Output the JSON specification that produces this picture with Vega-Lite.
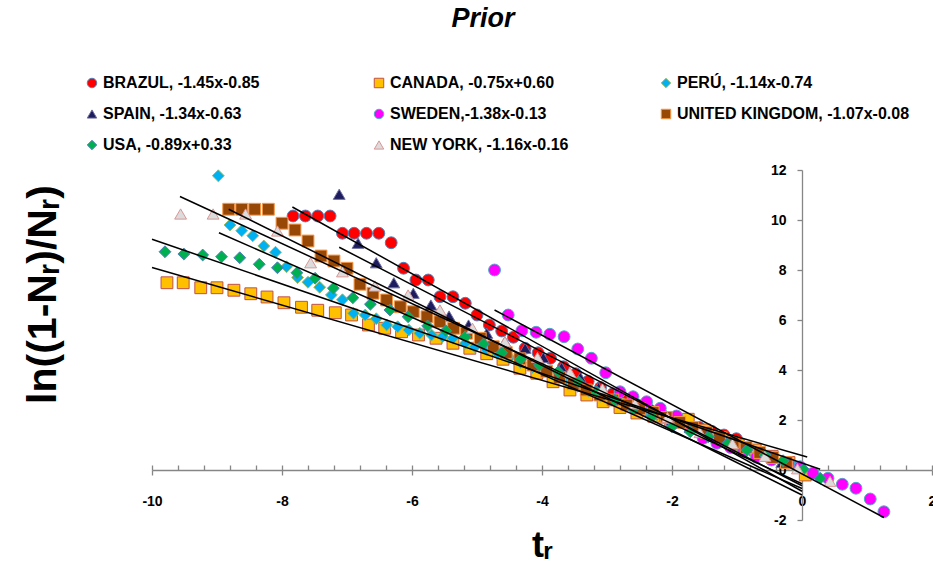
{
  "$schema": "https://vega.github.io/schema/vega-lite/v6.json",
  "width": 780,
  "height": 350,
  "autosize": "none",
  "padding": {"left": 152, "top": 170, "right": 1, "bottom": 51},
  "background": "white",
  "config": {"view": {"stroke": null}, "font": "Liberation Sans"},
  "title": {"text": "Prior", "fontSize": 27, "fontStyle": "italic", "fontWeight": "bold", "font": "Liberation Sans", "anchor": "middle", "dx": -59, "offset": 42, "color": "#000000"},
  "datasets": {
    "pts": [
      {"s": "BRAZUL, -1.45x-0.85", "x": -7.83, "y": 10.16}, {"s": "BRAZUL, -1.45x-0.85", "x": -7.64, "y": 10.16}, {"s": "BRAZUL, -1.45x-0.85", "x": -7.45, "y": 10.16}, {"s": "BRAZUL, -1.45x-0.85", "x": -7.26, "y": 10.16},
      {"s": "BRAZUL, -1.45x-0.85", "x": -7.07, "y": 9.47}, {"s": "BRAZUL, -1.45x-0.85", "x": -6.89, "y": 9.47}, {"s": "BRAZUL, -1.45x-0.85", "x": -6.70, "y": 9.47}, {"s": "BRAZUL, -1.45x-0.85", "x": -6.51, "y": 9.47},
      {"s": "BRAZUL, -1.45x-0.85", "x": -6.32, "y": 9.09}, {"s": "BRAZUL, -1.45x-0.85", "x": -6.13, "y": 8.07}, {"s": "BRAZUL, -1.45x-0.85", "x": -5.94, "y": 7.6}, {"s": "BRAZUL, -1.45x-0.85", "x": -5.75, "y": 7.6},
      {"s": "BRAZUL, -1.45x-0.85", "x": -5.57, "y": 6.93}, {"s": "BRAZUL, -1.45x-0.85", "x": -5.37, "y": 6.93}, {"s": "BRAZUL, -1.45x-0.85", "x": -5.18, "y": 6.67}, {"s": "BRAZUL, -1.45x-0.85", "x": -5.0, "y": 6.2},
      {"s": "BRAZUL, -1.45x-0.85", "x": -4.81, "y": 5.8}, {"s": "BRAZUL, -1.45x-0.85", "x": -4.62, "y": 5.56}, {"s": "BRAZUL, -1.45x-0.85", "x": -4.44, "y": 5.31}, {"s": "BRAZUL, -1.45x-0.85", "x": -4.26, "y": 4.87},
      {"s": "BRAZUL, -1.45x-0.85", "x": -4.06, "y": 4.69}, {"s": "BRAZUL, -1.45x-0.85", "x": -3.87, "y": 4.47}, {"s": "BRAZUL, -1.45x-0.85", "x": -3.67, "y": 4.13}, {"s": "BRAZUL, -1.45x-0.85", "x": -3.48, "y": 3.85},
      {"s": "BRAZUL, -1.45x-0.85", "x": -3.29, "y": 3.55}, {"s": "BRAZUL, -1.45x-0.85", "x": -3.10, "y": 3.3}, {"s": "BRAZUL, -1.45x-0.85", "x": -2.91, "y": 3.05}, {"s": "BRAZUL, -1.45x-0.85", "x": -2.72, "y": 2.8},
      {"s": "BRAZUL, -1.45x-0.85", "x": -2.53, "y": 2.6}, {"s": "BRAZUL, -1.45x-0.85", "x": -2.34, "y": 2.4}, {"s": "BRAZUL, -1.45x-0.85", "x": -2.15, "y": 2.2}, {"s": "BRAZUL, -1.45x-0.85", "x": -1.96, "y": 2.0},
      {"s": "BRAZUL, -1.45x-0.85", "x": -1.77, "y": 1.85}, {"s": "BRAZUL, -1.45x-0.85", "x": -1.58, "y": 1.7}, {"s": "BRAZUL, -1.45x-0.85", "x": -1.39, "y": 1.55}, {"s": "BRAZUL, -1.45x-0.85", "x": -1.20, "y": 1.4},
      {"s": "BRAZUL, -1.45x-0.85", "x": -1.01, "y": 1.25},

      {"s": "CANADA, -0.75x+0.60", "x": -9.77, "y": 7.49}, {"s": "CANADA, -0.75x+0.60", "x": -9.52, "y": 7.49}, {"s": "CANADA, -0.75x+0.60", "x": -9.25, "y": 7.29}, {"s": "CANADA, -0.75x+0.60", "x": -9.0, "y": 7.29},
      {"s": "CANADA, -0.75x+0.60", "x": -8.74, "y": 7.19}, {"s": "CANADA, -0.75x+0.60", "x": -8.48, "y": 7.05}, {"s": "CANADA, -0.75x+0.60", "x": -8.23, "y": 6.92}, {"s": "CANADA, -0.75x+0.60", "x": -7.97, "y": 6.69},
      {"s": "CANADA, -0.75x+0.60", "x": -7.70, "y": 6.51}, {"s": "CANADA, -0.75x+0.60", "x": -7.45, "y": 6.39}, {"s": "CANADA, -0.75x+0.60", "x": -7.18, "y": 6.29}, {"s": "CANADA, -0.75x+0.60", "x": -6.93, "y": 6.2},
      {"s": "CANADA, -0.75x+0.60", "x": -6.67, "y": 5.8}, {"s": "CANADA, -0.75x+0.60", "x": -6.42, "y": 5.67}, {"s": "CANADA, -0.75x+0.60", "x": -6.16, "y": 5.53}, {"s": "CANADA, -0.75x+0.60", "x": -5.90, "y": 5.4},
      {"s": "CANADA, -0.75x+0.60", "x": -5.63, "y": 5.27}, {"s": "CANADA, -0.75x+0.60", "x": -5.37, "y": 5.07}, {"s": "CANADA, -0.75x+0.60", "x": -5.11, "y": 4.87}, {"s": "CANADA, -0.75x+0.60", "x": -4.85, "y": 4.65},
      {"s": "CANADA, -0.75x+0.60", "x": -4.60, "y": 4.43}, {"s": "CANADA, -0.75x+0.60", "x": -4.34, "y": 4.07}, {"s": "CANADA, -0.75x+0.60", "x": -4.08, "y": 3.87}, {"s": "CANADA, -0.75x+0.60", "x": -3.83, "y": 3.53},
      {"s": "CANADA, -0.75x+0.60", "x": -3.57, "y": 3.2}, {"s": "CANADA, -0.75x+0.60", "x": -3.31, "y": 3.0}, {"s": "CANADA, -0.75x+0.60", "x": -3.06, "y": 2.73}, {"s": "CANADA, -0.75x+0.60", "x": -2.80, "y": 2.5},
      {"s": "CANADA, -0.75x+0.60", "x": -2.54, "y": 2.28}, {"s": "CANADA, -0.75x+0.60", "x": -2.28, "y": 2.15}, {"s": "CANADA, -0.75x+0.60", "x": -2.02, "y": 1.95}, {"s": "CANADA, -0.75x+0.60", "x": -1.75, "y": 2.03},
      {"s": "CANADA, -0.75x+0.60", "x": -1.50, "y": 1.6}, {"s": "CANADA, -0.75x+0.60", "x": -1.24, "y": 1.3}, {"s": "CANADA, -0.75x+0.60", "x": -0.98, "y": 1.0}, {"s": "CANADA, -0.75x+0.60", "x": -0.72, "y": 0.8},
      {"s": "CANADA, -0.75x+0.60", "x": -0.46, "y": 0.55}, {"s": "CANADA, -0.75x+0.60", "x": -0.20, "y": 0.3}, {"s": "CANADA, -0.75x+0.60", "x": 0.05, "y": -0.2},

      {"s": "PERÚ, -1.14x-0.74", "x": -8.98, "y": 11.77}, {"s": "PERÚ, -1.14x-0.74", "x": -8.80, "y": 9.8}, {"s": "PERÚ, -1.14x-0.74", "x": -8.62, "y": 9.57}, {"s": "PERÚ, -1.14x-0.74", "x": -8.45, "y": 9.37},
      {"s": "PERÚ, -1.14x-0.74", "x": -8.28, "y": 8.96}, {"s": "PERÚ, -1.14x-0.74", "x": -8.10, "y": 8.71}, {"s": "PERÚ, -1.14x-0.74", "x": -7.93, "y": 8.13}, {"s": "PERÚ, -1.14x-0.74", "x": -7.76, "y": 7.7},
      {"s": "PERÚ, -1.14x-0.74", "x": -7.60, "y": 7.51}, {"s": "PERÚ, -1.14x-0.74", "x": -7.42, "y": 7.31}, {"s": "PERÚ, -1.14x-0.74", "x": -7.24, "y": 7.0}, {"s": "PERÚ, -1.14x-0.74", "x": -7.07, "y": 6.81},
      {"s": "PERÚ, -1.14x-0.74", "x": -6.90, "y": 6.27}, {"s": "PERÚ, -1.14x-0.74", "x": -6.72, "y": 6.2}, {"s": "PERÚ, -1.14x-0.74", "x": -6.55, "y": 6.05}, {"s": "PERÚ, -1.14x-0.74", "x": -6.39, "y": 5.8},
      {"s": "PERÚ, -1.14x-0.74", "x": -6.22, "y": 5.73}, {"s": "PERÚ, -1.14x-0.74", "x": -6.05, "y": 5.6}, {"s": "PERÚ, -1.14x-0.74", "x": -5.88, "y": 5.47}, {"s": "PERÚ, -1.14x-0.74", "x": -5.70, "y": 5.4},
      {"s": "PERÚ, -1.14x-0.74", "x": -5.53, "y": 5.33}, {"s": "PERÚ, -1.14x-0.74", "x": -5.37, "y": 5.27}, {"s": "PERÚ, -1.14x-0.74", "x": -5.18, "y": 5.07}, {"s": "PERÚ, -1.14x-0.74", "x": -5.03, "y": 4.93},
      {"s": "PERÚ, -1.14x-0.74", "x": -4.85, "y": 4.8}, {"s": "PERÚ, -1.14x-0.74", "x": -4.68, "y": 4.65}, {"s": "PERÚ, -1.14x-0.74", "x": -4.50, "y": 4.5}, {"s": "PERÚ, -1.14x-0.74", "x": -4.33, "y": 4.3},
      {"s": "PERÚ, -1.14x-0.74", "x": -4.15, "y": 4.1}, {"s": "PERÚ, -1.14x-0.74", "x": -3.98, "y": 3.95}, {"s": "PERÚ, -1.14x-0.74", "x": -3.80, "y": 3.75}, {"s": "PERÚ, -1.14x-0.74", "x": -3.63, "y": 3.55},
      {"s": "PERÚ, -1.14x-0.74", "x": -3.45, "y": 3.35}, {"s": "PERÚ, -1.14x-0.74", "x": -3.28, "y": 3.15}, {"s": "PERÚ, -1.14x-0.74", "x": -3.10, "y": 2.95}, {"s": "PERÚ, -1.14x-0.74", "x": -2.93, "y": 2.8},
      {"s": "PERÚ, -1.14x-0.74", "x": -2.75, "y": 2.65}, {"s": "PERÚ, -1.14x-0.74", "x": -2.58, "y": 2.5}, {"s": "PERÚ, -1.14x-0.74", "x": -2.40, "y": 2.35}, {"s": "PERÚ, -1.14x-0.74", "x": -2.23, "y": 2.2},
      {"s": "PERÚ, -1.14x-0.74", "x": -2.05, "y": 2.05}, {"s": "PERÚ, -1.14x-0.74", "x": -1.88, "y": 1.9}, {"s": "PERÚ, -1.14x-0.74", "x": -1.70, "y": 1.7}, {"s": "PERÚ, -1.14x-0.74", "x": -1.53, "y": 1.5},
      {"s": "PERÚ, -1.14x-0.74", "x": -1.35, "y": 1.3}, {"s": "PERÚ, -1.14x-0.74", "x": -1.18, "y": 1.15}, {"s": "PERÚ, -1.14x-0.74", "x": -1.0, "y": 1.0}, {"s": "PERÚ, -1.14x-0.74", "x": -0.83, "y": 0.85},
      {"s": "PERÚ, -1.14x-0.74", "x": -0.65, "y": 0.65}, {"s": "PERÚ, -1.14x-0.74", "x": -0.48, "y": 0.5}, {"s": "PERÚ, -1.14x-0.74", "x": -0.30, "y": 0.35}, {"s": "PERÚ, -1.14x-0.74", "x": -0.13, "y": 0.2},

      {"s": "SPAIN, -1.34x-0.63", "x": -7.12, "y": 11.03}, {"s": "SPAIN, -1.34x-0.63", "x": -6.83, "y": 9.07}, {"s": "SPAIN, -1.34x-0.63", "x": -6.55, "y": 8.29}, {"s": "SPAIN, -1.34x-0.63", "x": -6.28, "y": 7.49},
      {"s": "SPAIN, -1.34x-0.63", "x": -5.98, "y": 7.07}, {"s": "SPAIN, -1.34x-0.63", "x": -5.71, "y": 6.6}, {"s": "SPAIN, -1.34x-0.63", "x": -5.43, "y": 6.16}, {"s": "SPAIN, -1.34x-0.63", "x": -5.13, "y": 5.8},
      {"s": "SPAIN, -1.34x-0.63", "x": -4.85, "y": 5.47}, {"s": "SPAIN, -1.34x-0.63", "x": -4.57, "y": 5.13}, {"s": "SPAIN, -1.34x-0.63", "x": -4.26, "y": 4.87}, {"s": "SPAIN, -1.34x-0.63", "x": -3.98, "y": 4.5},
      {"s": "SPAIN, -1.34x-0.63", "x": -3.70, "y": 4.1}, {"s": "SPAIN, -1.34x-0.63", "x": -3.41, "y": 3.7}, {"s": "SPAIN, -1.34x-0.63", "x": -3.13, "y": 3.3}, {"s": "SPAIN, -1.34x-0.63", "x": -2.85, "y": 2.95},
      {"s": "SPAIN, -1.34x-0.63", "x": -2.57, "y": 2.6}, {"s": "SPAIN, -1.34x-0.63", "x": -2.28, "y": 2.3}, {"s": "SPAIN, -1.34x-0.63", "x": -2.0, "y": 2.0}, {"s": "SPAIN, -1.34x-0.63", "x": -1.72, "y": 1.7},
      {"s": "SPAIN, -1.34x-0.63", "x": -1.44, "y": 1.45}, {"s": "SPAIN, -1.34x-0.63", "x": -1.16, "y": 1.15}, {"s": "SPAIN, -1.34x-0.63", "x": -0.87, "y": 0.85}, {"s": "SPAIN, -1.34x-0.63", "x": -0.59, "y": 0.55},
      {"s": "SPAIN, -1.34x-0.63", "x": -0.31, "y": 0.3},

      {"s": "SWEDEN,-1.38x-0.13", "x": -4.73, "y": 8.0}, {"s": "SWEDEN,-1.38x-0.13", "x": -4.52, "y": 6.2}, {"s": "SWEDEN,-1.38x-0.13", "x": -4.31, "y": 5.57}, {"s": "SWEDEN,-1.38x-0.13", "x": -4.09, "y": 5.51},
      {"s": "SWEDEN,-1.38x-0.13", "x": -3.88, "y": 5.43}, {"s": "SWEDEN,-1.38x-0.13", "x": -3.66, "y": 5.33}, {"s": "SWEDEN,-1.38x-0.13", "x": -3.45, "y": 4.84}, {"s": "SWEDEN,-1.38x-0.13", "x": -3.24, "y": 4.47},
      {"s": "SWEDEN,-1.38x-0.13", "x": -3.02, "y": 3.89}, {"s": "SWEDEN,-1.38x-0.13", "x": -2.80, "y": 3.13}, {"s": "SWEDEN,-1.38x-0.13", "x": -2.60, "y": 2.93}, {"s": "SWEDEN,-1.38x-0.13", "x": -2.39, "y": 2.73},
      {"s": "SWEDEN,-1.38x-0.13", "x": -2.18, "y": 2.47}, {"s": "SWEDEN,-1.38x-0.13", "x": -1.93, "y": 2.16}, {"s": "SWEDEN,-1.38x-0.13", "x": -1.72, "y": 1.65}, {"s": "SWEDEN,-1.38x-0.13", "x": -1.52, "y": 1.27},
      {"s": "SWEDEN,-1.38x-0.13", "x": -1.31, "y": 1.07}, {"s": "SWEDEN,-1.38x-0.13", "x": -1.10, "y": 0.9}, {"s": "SWEDEN,-1.38x-0.13", "x": -0.90, "y": 0.73}, {"s": "SWEDEN,-1.38x-0.13", "x": -0.70, "y": 0.51},
      {"s": "SWEDEN,-1.38x-0.13", "x": -0.47, "y": 0.4}, {"s": "SWEDEN,-1.38x-0.13", "x": -0.21, "y": 0.27}, {"s": "SWEDEN,-1.38x-0.13", "x": -0.03, "y": 0.13}, {"s": "SWEDEN,-1.38x-0.13", "x": 0.17, "y": -0.13},
      {"s": "SWEDEN,-1.38x-0.13", "x": 0.40, "y": -0.33}, {"s": "SWEDEN,-1.38x-0.13", "x": 0.62, "y": -0.57}, {"s": "SWEDEN,-1.38x-0.13", "x": 0.83, "y": -0.73}, {"s": "SWEDEN,-1.38x-0.13", "x": 1.05, "y": -1.16},
      {"s": "SWEDEN,-1.38x-0.13", "x": 1.26, "y": -1.67},

      {"s": "UNITED KINGDOM, -1.07x-0.08", "x": -8.82, "y": 10.43}, {"s": "UNITED KINGDOM, -1.07x-0.08", "x": -8.62, "y": 10.43}, {"s": "UNITED KINGDOM, -1.07x-0.08", "x": -8.42, "y": 10.43}, {"s": "UNITED KINGDOM, -1.07x-0.08", "x": -8.21, "y": 10.43},
      {"s": "UNITED KINGDOM, -1.07x-0.08", "x": -8.0, "y": 9.87}, {"s": "UNITED KINGDOM, -1.07x-0.08", "x": -7.80, "y": 9.6}, {"s": "UNITED KINGDOM, -1.07x-0.08", "x": -7.60, "y": 9.16}, {"s": "UNITED KINGDOM, -1.07x-0.08", "x": -7.40, "y": 8.56},
      {"s": "UNITED KINGDOM, -1.07x-0.08", "x": -7.20, "y": 8.36}, {"s": "UNITED KINGDOM, -1.07x-0.08", "x": -7.0, "y": 8.07}, {"s": "UNITED KINGDOM, -1.07x-0.08", "x": -6.80, "y": 7.43}, {"s": "UNITED KINGDOM, -1.07x-0.08", "x": -6.60, "y": 7.07},
      {"s": "UNITED KINGDOM, -1.07x-0.08", "x": -6.39, "y": 6.8}, {"s": "UNITED KINGDOM, -1.07x-0.08", "x": -6.18, "y": 6.53}, {"s": "UNITED KINGDOM, -1.07x-0.08", "x": -5.98, "y": 6.33}, {"s": "UNITED KINGDOM, -1.07x-0.08", "x": -5.77, "y": 6.13},
      {"s": "UNITED KINGDOM, -1.07x-0.08", "x": -5.57, "y": 5.93}, {"s": "UNITED KINGDOM, -1.07x-0.08", "x": -5.36, "y": 5.67}, {"s": "UNITED KINGDOM, -1.07x-0.08", "x": -5.16, "y": 5.47}, {"s": "UNITED KINGDOM, -1.07x-0.08", "x": -4.95, "y": 5.27},
      {"s": "UNITED KINGDOM, -1.07x-0.08", "x": -4.75, "y": 4.93}, {"s": "UNITED KINGDOM, -1.07x-0.08", "x": -4.55, "y": 4.7}, {"s": "UNITED KINGDOM, -1.07x-0.08", "x": -4.34, "y": 4.45}, {"s": "UNITED KINGDOM, -1.07x-0.08", "x": -4.14, "y": 4.2},
      {"s": "UNITED KINGDOM, -1.07x-0.08", "x": -3.93, "y": 3.95}, {"s": "UNITED KINGDOM, -1.07x-0.08", "x": -3.73, "y": 3.7}, {"s": "UNITED KINGDOM, -1.07x-0.08", "x": -3.52, "y": 3.45}, {"s": "UNITED KINGDOM, -1.07x-0.08", "x": -3.32, "y": 3.2},
      {"s": "UNITED KINGDOM, -1.07x-0.08", "x": -3.11, "y": 3.0}, {"s": "UNITED KINGDOM, -1.07x-0.08", "x": -2.91, "y": 2.8}, {"s": "UNITED KINGDOM, -1.07x-0.08", "x": -2.70, "y": 2.6}, {"s": "UNITED KINGDOM, -1.07x-0.08", "x": -2.50, "y": 2.45},
      {"s": "UNITED KINGDOM, -1.07x-0.08", "x": -2.29, "y": 2.3}, {"s": "UNITED KINGDOM, -1.07x-0.08", "x": -2.09, "y": 2.1}, {"s": "UNITED KINGDOM, -1.07x-0.08", "x": -1.88, "y": 1.9}, {"s": "UNITED KINGDOM, -1.07x-0.08", "x": -1.68, "y": 1.7},
      {"s": "UNITED KINGDOM, -1.07x-0.08", "x": -1.47, "y": 1.5}, {"s": "UNITED KINGDOM, -1.07x-0.08", "x": -1.27, "y": 1.3}, {"s": "UNITED KINGDOM, -1.07x-0.08", "x": -1.06, "y": 1.1}, {"s": "UNITED KINGDOM, -1.07x-0.08", "x": -0.86, "y": 0.9},
      {"s": "UNITED KINGDOM, -1.07x-0.08", "x": -0.65, "y": 0.7}, {"s": "UNITED KINGDOM, -1.07x-0.08", "x": -0.45, "y": 0.5}, {"s": "UNITED KINGDOM, -1.07x-0.08", "x": -0.24, "y": 0.3},

      {"s": "USA, -0.89x+0.33", "x": -9.80, "y": 8.73}, {"s": "USA, -0.89x+0.33", "x": -9.51, "y": 8.64}, {"s": "USA, -0.89x+0.33", "x": -9.22, "y": 8.6}, {"s": "USA, -0.89x+0.33", "x": -8.93, "y": 8.53},
      {"s": "USA, -0.89x+0.33", "x": -8.65, "y": 8.49}, {"s": "USA, -0.89x+0.33", "x": -8.35, "y": 8.23}, {"s": "USA, -0.89x+0.33", "x": -8.07, "y": 8.09}, {"s": "USA, -0.89x+0.33", "x": -7.77, "y": 7.89},
      {"s": "USA, -0.89x+0.33", "x": -7.49, "y": 7.67}, {"s": "USA, -0.89x+0.33", "x": -7.21, "y": 7.27}, {"s": "USA, -0.89x+0.33", "x": -6.91, "y": 6.89}, {"s": "USA, -0.89x+0.33", "x": -6.64, "y": 6.63},
      {"s": "USA, -0.89x+0.33", "x": -6.34, "y": 6.4}, {"s": "USA, -0.89x+0.33", "x": -6.06, "y": 6.13}, {"s": "USA, -0.89x+0.33", "x": -5.76, "y": 5.76}, {"s": "USA, -0.89x+0.33", "x": -5.48, "y": 5.57},
      {"s": "USA, -0.89x+0.33", "x": -5.18, "y": 5.33}, {"s": "USA, -0.89x+0.33", "x": -4.90, "y": 5.04}, {"s": "USA, -0.89x+0.33", "x": -4.62, "y": 4.69}, {"s": "USA, -0.89x+0.33", "x": -4.33, "y": 4.43},
      {"s": "USA, -0.89x+0.33", "x": -4.04, "y": 4.2}, {"s": "USA, -0.89x+0.33", "x": -3.75, "y": 3.93}, {"s": "USA, -0.89x+0.33", "x": -3.44, "y": 3.53}, {"s": "USA, -0.89x+0.33", "x": -3.16, "y": 3.13},
      {"s": "USA, -0.89x+0.33", "x": -2.88, "y": 2.8}, {"s": "USA, -0.89x+0.33", "x": -2.60, "y": 2.45}, {"s": "USA, -0.89x+0.33", "x": -2.31, "y": 2.13}, {"s": "USA, -0.89x+0.33", "x": -2.0, "y": 1.73},
      {"s": "USA, -0.89x+0.33", "x": -1.72, "y": 1.53}, {"s": "USA, -0.89x+0.33", "x": -1.44, "y": 1.33}, {"s": "USA, -0.89x+0.33", "x": -1.15, "y": 1.05}, {"s": "USA, -0.89x+0.33", "x": -0.85, "y": 0.8},
      {"s": "USA, -0.89x+0.33", "x": -0.57, "y": 0.6}, {"s": "USA, -0.89x+0.33", "x": -0.29, "y": 0.37}, {"s": "USA, -0.89x+0.33", "x": 0.02, "y": 0.03}, {"s": "USA, -0.89x+0.33", "x": 0.28, "y": -0.33},

      {"s": "NEW YORK, -1.16x-0.16", "x": -9.56, "y": 10.24}, {"s": "NEW YORK, -1.16x-0.16", "x": -9.06, "y": 10.24}, {"s": "NEW YORK, -1.16x-0.16", "x": -8.56, "y": 10.24}, {"s": "NEW YORK, -1.16x-0.16", "x": -8.07, "y": 9.56},
      {"s": "NEW YORK, -1.16x-0.16", "x": -7.56, "y": 8.29}, {"s": "NEW YORK, -1.16x-0.16", "x": -7.07, "y": 7.93}, {"s": "NEW YORK, -1.16x-0.16", "x": -6.57, "y": 7.36}, {"s": "NEW YORK, -1.16x-0.16", "x": -6.06, "y": 7.0},
      {"s": "NEW YORK, -1.16x-0.16", "x": -5.57, "y": 6.4}, {"s": "NEW YORK, -1.16x-0.16", "x": -5.07, "y": 5.67}, {"s": "NEW YORK, -1.16x-0.16", "x": -4.57, "y": 5.13}, {"s": "NEW YORK, -1.16x-0.16", "x": -4.07, "y": 4.5},
      {"s": "NEW YORK, -1.16x-0.16", "x": -3.57, "y": 3.9}, {"s": "NEW YORK, -1.16x-0.16", "x": -3.07, "y": 3.25}, {"s": "NEW YORK, -1.16x-0.16", "x": -2.57, "y": 2.65}, {"s": "NEW YORK, -1.16x-0.16", "x": -2.07, "y": 2.1},
      {"s": "NEW YORK, -1.16x-0.16", "x": -1.57, "y": 1.5}, {"s": "NEW YORK, -1.16x-0.16", "x": -1.07, "y": 1.05}, {"s": "NEW YORK, -1.16x-0.16", "x": -0.57, "y": 0.55}, {"s": "NEW YORK, -1.16x-0.16", "x": -0.07, "y": 0.05},
      {"s": "NEW YORK, -1.16x-0.16", "x": 0.43, "y": -0.45}
    ],
    "trend": [
      {"s": "BRAZUL", "x": -7.84, "y": 10.52}, {"s": "BRAZUL", "x": 0, "y": -0.85},
      {"s": "CANADA", "x": -10, "y": 8.1}, {"s": "CANADA", "x": 0.08, "y": 0.52},
      {"s": "PERU", "x": -8.97, "y": 9.49}, {"s": "PERU", "x": 0, "y": -0.74},
      {"s": "SPAIN", "x": -7.12, "y": 8.91}, {"s": "SPAIN", "x": 0, "y": -0.63},
      {"s": "SWEDEN", "x": -4.73, "y": 6.4}, {"s": "SWEDEN", "x": 1.26, "y": -1.9},
      {"s": "UK", "x": -8.82, "y": 10.43}, {"s": "UK", "x": 0, "y": -1.0},
      {"s": "USA", "x": -10, "y": 9.23}, {"s": "USA", "x": 0.28, "y": 0.03},
      {"s": "NY", "x": -9.57, "y": 10.94}, {"s": "NY", "x": 0, "y": -0.55}
    ]
  },
  "resolve": {"axis": {"x": "independent", "y": "independent"}},
  "layer": [
    {
      "data": {"name": "pts"},
      "mark": {"type": "point", "filled": true, "size": 140, "strokeWidth": 1, "opacity": 1},
      "encoding": {
        "x": {"field": "x", "type": "quantitative", "scale": {"domain": [-10, 2], "nice": false, "zero": false},
          "axis": {"orient": "bottom", "offset": -50, "values": [-10, -8, -6, -4, -2, 0, 2], "tickSize": 5, "grid": false,
            "domainColor": "#868686", "tickColor": "#868686", "domainWidth": 1.3, "tickWidth": 1.3,
            "labelExpr": "replace(datum.label, '−', '-')",
            "labelFont": "Liberation Sans", "labelFontSize": 14, "labelFontWeight": "bold", "labelColor": "#000000", "labelPadding": 19, "labelFlush": false,
            "title": "tᵣ", "titleFont": "Liberation Sans", "titleFontSize": 36, "titleFontWeight": "bold", "titleColor": "#000000", "titlePadding": 20}},
        "y": {"field": "y", "type": "quantitative", "scale": {"domain": [-2, 12], "nice": false, "zero": false},
          "axis": {"orient": "left", "offset": -650, "values": [-2, 0, 2, 4, 6, 8, 10, 12], "tickSize": 5, "grid": false,
            "domainColor": "#868686", "tickColor": "#868686", "domainWidth": 1.3, "tickWidth": 1.3,
            "labelExpr": "replace(datum.label, '−', '-')",
            "labelFont": "Liberation Sans", "labelFontSize": 14, "labelFontWeight": "bold", "labelColor": "#000000", "labelPadding": 11,
            "title": "ln((1-Nᵣ)/Nᵣ)", "titleFont": "Liberation Sans", "titleFontSize": 41, "titleFontWeight": "bold", "titleColor": "#000000",
            "titleX": -759, "titleY": 124, "titleAngle": -90, "titleAlign": "center", "titleBaseline": "middle"}},
        "shape": {"field": "s", "type": "nominal", "sort": null,
          "scale": {"domain": ["BRAZUL, -1.45x-0.85", "SPAIN, -1.34x-0.63", "USA, -0.89x+0.33", "CANADA, -0.75x+0.60", "SWEDEN,-1.38x-0.13", "NEW YORK, -1.16x-0.16", "PERÚ, -1.14x-0.74", "UNITED KINGDOM, -1.07x-0.08"],
            "range": ["circle", "triangle-up", "diamond", "square", "circle", "triangle-up", "diamond", "square"]},
          "legend": {"title": null, "orient": "none", "legendX": -68, "legendY": -95, "columns": 3, "gridAlign": "all", "columnPadding": 35, "rowPadding": 15,
            "symbolSize": 90, "symbolStrokeWidth": 1, "labelFont": "Liberation Sans", "labelFontSize": 16, "labelFontWeight": "bold", "labelColor": "#000000", "labelLimit": 400, "labelOffset": 3}},
        "fill": {"field": "s", "type": "nominal", "sort": null,
          "scale": {"domain": ["BRAZUL, -1.45x-0.85", "SPAIN, -1.34x-0.63", "USA, -0.89x+0.33", "CANADA, -0.75x+0.60", "SWEDEN,-1.38x-0.13", "NEW YORK, -1.16x-0.16", "PERÚ, -1.14x-0.74", "UNITED KINGDOM, -1.07x-0.08"],
            "range": ["#FF0000", "#1C1C5E", "#00B050", "#FFC000", "#FF00FF", "#DCDCDC", "#00B0F0", "#984806"]}},
        "stroke": {"field": "s", "type": "nominal", "sort": null,
          "scale": {"domain": ["BRAZUL, -1.45x-0.85", "SPAIN, -1.34x-0.63", "USA, -0.89x+0.33", "CANADA, -0.75x+0.60", "SWEDEN,-1.38x-0.13", "NEW YORK, -1.16x-0.16", "PERÚ, -1.14x-0.74", "UNITED KINGDOM, -1.07x-0.08"],
            "range": ["#4F81BD", "#6E6EA0", "#4F81BD", "#C0504D", "#4BACC6", "#D99694", "#9BBB59", "#F79646"]}}
      }
    },
    {
      "data": {"name": "trend"},
      "mark": {"type": "line", "color": "#000000", "strokeWidth": 1.5},
      "encoding": {
        "x": {"field": "x", "type": "quantitative",
          "axis": {"orient": "bottom", "offset": -50, "values": [-10, -9.6, -9.2, -8.8, -8.4, -8, -7.6, -7.2, -6.8, -6.4, -6, -5.6, -5.2, -4.8, -4.4, -4, -3.6, -3.2, -2.8, -2.4, -2, -1.6, -1.2, -0.8, -0.4, 0, 0.4, 0.8, 1.2, 1.6, 2],
            "tickSize": -5, "labels": false, "domain": false, "grid": false, "tickColor": "#868686", "tickWidth": 1.3, "title": null}},
        "y": {"field": "y", "type": "quantitative", "axis": null},
        "detail": {"field": "s", "type": "nominal"}
      }
    }
  ]
}
